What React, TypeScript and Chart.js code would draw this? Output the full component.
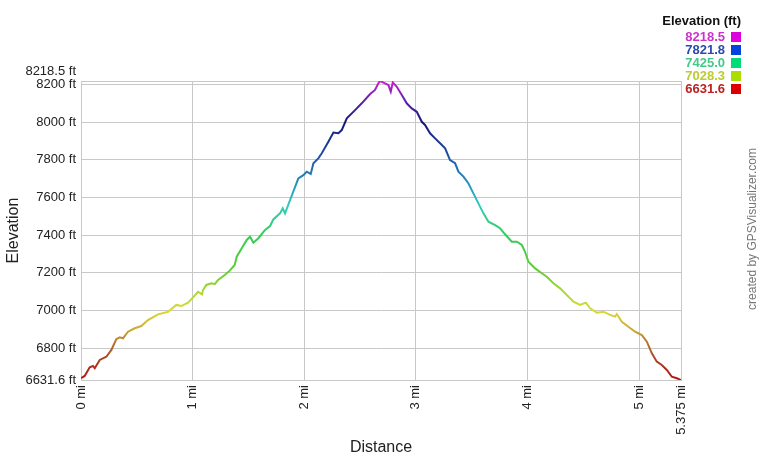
import React, { useEffect, useRef } from 'react';
import { Chart, registerables } from 'chart.js';

Chart.register(...registerables);

// Distance along track (miles)
const distanceMi = [
  0, 0.033, 0.078, 0.108, 0.123, 0.168, 0.227, 0.272, 0.316, 0.347,
  0.376, 0.421, 0.481, 0.54, 0.6, 0.69, 0.78, 0.854, 0.899, 0.959,
  1.004, 1.048, 1.084, 1.093, 1.123, 1.168, 1.198, 1.228, 1.288, 1.332,
  1.377, 1.395, 1.44, 1.485, 1.514, 1.544, 1.589, 1.649, 1.694, 1.723,
  1.783, 1.807, 1.828, 1.873, 1.918, 1.947, 1.992, 2.022, 2.058, 2.082,
  2.126, 2.157, 2.216, 2.261, 2.306, 2.336, 2.381, 2.455, 2.515, 2.59,
  2.634, 2.664, 2.679, 2.724, 2.754, 2.775, 2.793, 2.829, 2.874, 2.918,
  2.963, 3.008, 3.053, 3.082, 3.127, 3.172, 3.217, 3.262, 3.306, 3.351,
  3.381, 3.426, 3.47, 3.515, 3.56, 3.605, 3.65, 3.71, 3.754, 3.799,
  3.859, 3.904, 3.949, 3.978, 4.008, 4.068, 4.128, 4.173, 4.232, 4.292,
  4.352, 4.411, 4.471, 4.522, 4.561, 4.621, 4.68, 4.74, 4.785, 4.8,
  4.845, 4.904, 4.964, 5.024, 5.069, 5.114, 5.158, 5.203, 5.248, 5.293,
  5.338, 5.375,
];

// Elevation (feet)
const elevationFt = [
  6642, 6653, 6699, 6706, 6694, 6738, 6755, 6791, 6848, 6858,
  6853, 6888, 6906, 6918, 6950, 6980, 6994, 7030, 7024, 7042,
  7070, 7100, 7086, 7109, 7136, 7145, 7140, 7162, 7189, 7212,
  7242, 7286, 7331, 7375, 7392, 7360, 7384, 7428, 7449, 7484,
  7516, 7543, 7516, 7587, 7657, 7702, 7719, 7737, 7725, 7782,
  7808, 7835, 7896, 7945, 7941, 7958, 8020, 8064, 8100, 8149,
  8171, 8206, 8218.5, 8206, 8197, 8162, 8211, 8188, 8144, 8100,
  8073, 8055, 8002, 7985, 7941, 7914, 7888, 7861, 7799, 7782,
  7737, 7711, 7676, 7622, 7569, 7516, 7472, 7454, 7437, 7405,
  7366, 7366, 7348, 7312, 7259, 7224, 7198, 7180, 7145, 7118,
  7083, 7047, 7030, 7042, 7012, 6989, 6994, 6977, 6968, 6982,
  6941, 6914, 6888, 6870, 6835, 6773, 6729, 6711, 6685, 6649,
  6641, 6631.6,
];

const xTickValues = [0, 1, 2, 3, 4, 5, 5.375];
const yTickValues = [6631.6, 6800, 7000, 7200, 7400, 7600, 7800, 8000, 8200, 8218.5];
const ELEV_MIN = 6631.6;
const ELEV_MAX = 8218.5;
const DIST_MAX = 5.375;

const legendTitle = 'Elevation (ft)';
const legendValues = ['8218.5', '7821.8', '7425.0', '7028.3', '6631.6'];
const legendTextColors = ['#cc33cc', '#2a4aae', '#44c98a', '#bccc33', '#bb2222'];
const legendBoxColors = ['#dd00dd', '#0044dd', '#00dd77', '#aadd00', '#dd0000'];

const gradientStops: [number, string][] = [
  [0, '#b81515'],
  [0.06, '#a83a22'],
  [0.12, '#b4722e'],
  [0.17, '#ccaa33'],
  [0.23, '#dada33'],
  [0.3, '#a8d833'],
  [0.36, '#66cc33'],
  [0.48, '#33cc55'],
  [0.58, '#33ccbb'],
  [0.67, '#2288bb'],
  [0.74, '#2255aa'],
  [0.86, '#16167c'],
  [0.93, '#5522aa'],
  [1, '#cc22cc'],
];

const FONT = '"Liberation Sans", Arial, sans-serif';

function makeGradient(chart: any) {
  const { ctx, chartArea, scales } = chart;
  if (!chartArea || !scales.y) return '#cc0000';
  const y = scales.y;
  const g = ctx.createLinearGradient(0, y.getPixelForValue(ELEV_MIN), 0, y.getPixelForValue(ELEV_MAX));
  gradientStops.forEach(([o, c]) => g.addColorStop(o, c));
  return g;
}

const overlayPlugin = {
  id: 'overlay',
  afterDraw(chart: any) {
    const ctx = chart.ctx;
    ctx.save();
    // legend
    ctx.textBaseline = 'middle';
    ctx.textAlign = 'right';
    ctx.font = `bold 13px ${FONT}`;
    ctx.fillStyle = '#111';
    ctx.fillText(legendTitle, 741, 21);
    legendValues.forEach((v, i) => {
      const cy = 37 + i * 13;
      ctx.fillStyle = legendTextColors[i];
      ctx.fillText(v, 725, cy);
      ctx.fillStyle = legendBoxColors[i];
      ctx.fillRect(731, cy - 5, 10, 10);
    });
    // credit
    ctx.translate(753, 229);
    ctx.rotate(-Math.PI / 2);
    ctx.textAlign = 'center';
    ctx.font = `12px ${FONT}`;
    ctx.fillStyle = '#777';
    ctx.fillText('created by GPSVisualizer.com', 0, 0);
    ctx.restore();
  },
};

export default function App() {
  const ref = useRef<HTMLCanvasElement>(null);
  useEffect(() => {
    if (!ref.current) return;
    Chart.defaults.font.family = FONT;
    const chart = new Chart(ref.current, {
      type: 'line',
      data: {
        datasets: [
          {
            data: distanceMi.map((d, i) => ({ x: d, y: elevationFt[i] })),
            borderColor: (c: any) => makeGradient(c.chart),
            borderWidth: 2,
            pointRadius: 0,
            tension: 0,
            fill: false,
          },
        ],
      },
      options: {
        responsive: false,
        animation: false,
        layout: { padding: { left: 0, top: 81, right: 79, bottom: 0 } },
        plugins: { legend: { display: false }, tooltip: { enabled: false } },
        scales: {
          x: {
            type: 'linear',
            min: 0,
            max: DIST_MAX,
            afterFit: (s: any) => { s.height = 80; },
            afterBuildTicks: (s: any) => { s.ticks = xTickValues.map((v) => ({ value: v })); },
            ticks: {
              autoSkip: false,
              minRotation: 90,
              maxRotation: 90,
              padding: 5,
              color: '#222',
              font: { size: 13, family: FONT },
              callback: (v: any) => `${v} mi`,
            },
            grid: { color: '#c8c8c8', drawTicks: false },
            border: { color: '#c8c8c8' },
            title: {
              display: true,
              text: 'Distance',
              color: '#222',
              font: { size: 16, family: FONT },
              padding: { top: 4, bottom: 3 },
            },
          },
          y: {
            type: 'linear',
            min: ELEV_MIN,
            max: ELEV_MAX,
            afterFit: (s: any) => { s.width = 81; },
            afterBuildTicks: (s: any) => { s.ticks = yTickValues.map((v) => ({ value: v })); },
            ticks: {
              autoSkip: false,
              padding: 5,
              color: '#222',
              font: { size: 13, family: FONT, lineHeight: 1.5 },
              callback: (v: any) => (v === ELEV_MAX ? [`${v} ft`, ''] : `${v} ft`),
            },
            grid: { color: '#c8c8c8', drawTicks: false },
            border: { color: '#c8c8c8' },
            title: {
              display: true,
              text: 'Elevation',
              color: '#222',
              font: { size: 16, family: FONT },
              padding: { top: 4, bottom: 4 },
            },
          },
        },
      },
      plugins: [overlayPlugin],
    } as any);
    return () => chart.destroy();
  }, []);
  return (
    <div style={{ position: 'absolute', left: 0, top: 0, width: 760, height: 460, background: '#fff' }}>
      <canvas ref={ref} width={760} height={460} />
    </div>
  );
}
